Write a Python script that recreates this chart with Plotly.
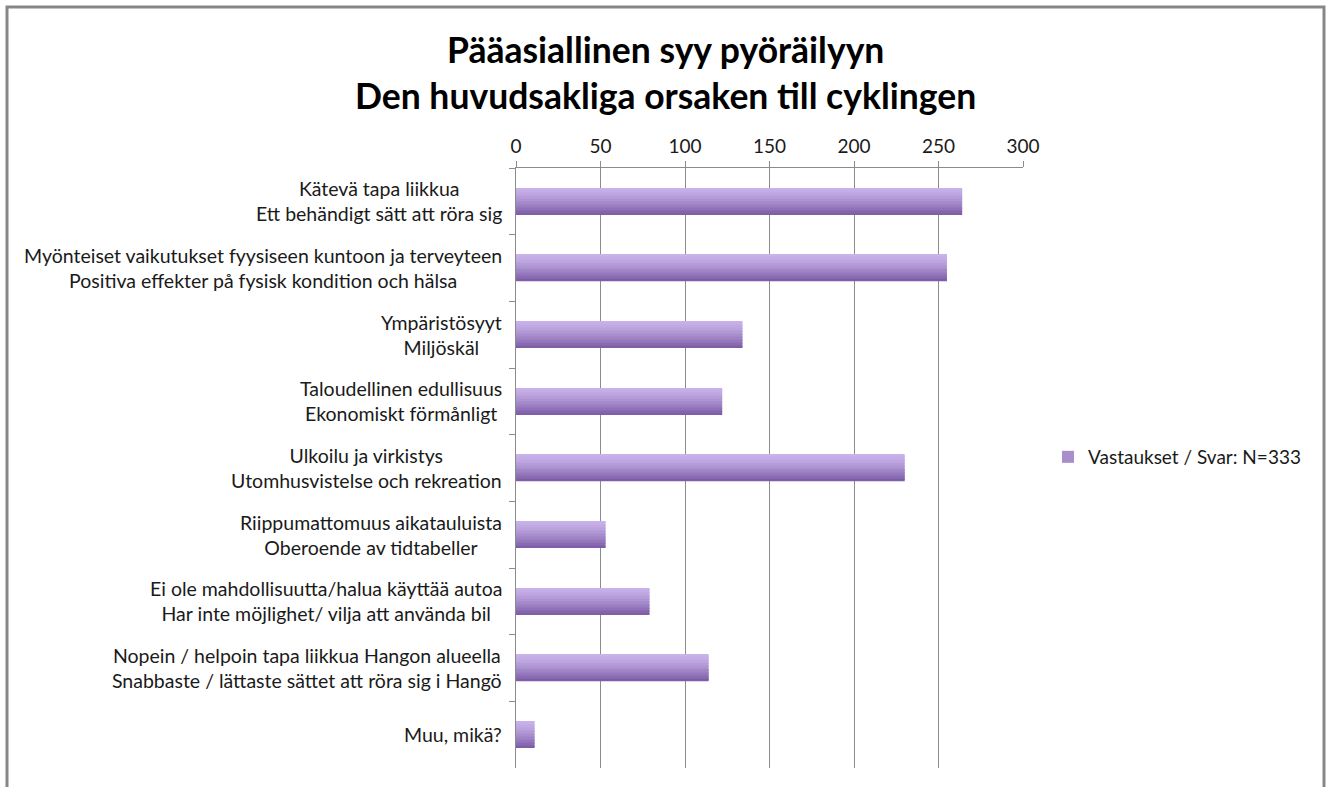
import plotly.graph_objects as go

# Survey: main reason for cycling (Finnish / Swedish), N=333
categories = [
    "Kätevä tapa liikkua<br>Ett behändigt sätt att röra sig",
    "Myönteiset vaikutukset fyysiseen kuntoon ja terveyteen<br>Positiva effekter på fysisk kondition och hälsa",
    "Ympäristösyyt<br>Miljöskäl",
    "Taloudellinen edullisuus<br>Ekonomiskt förmånligt",
    "Ulkoilu ja virkistys<br>Utomhusvistelse och rekreation",
    "Riippumattomuus aikatauluista<br>Oberoende av tidtabeller",
    "Ei ole mahdollisuutta/halua käyttää autoa<br>Har inte möjlighet/ vilja att använda bil",
    "Nopein / helpoin tapa liikkua Hangon alueella<br>Snabbaste / lättaste sättet att röra sig i Hangö",
    "Muu, mikä?",
]
answers = [264, 255, 134, 122, 230, 53, 79, 114, 11]
series_name = "Vastaukset / Svar: N=333"
title_lines = ["Pääasiallinen syy pyöräilyyn", "Den huvudsakliga orsaken till cyklingen"]
x_ticks = [0, 50, 100, 150, 200, 250, 300]

FONT = "Lato"
GRID = "#8c8c8c"
TEXT = "#1a1a1a"

# plot-area geometry in pixels
L, R, T, B = 516, 1023, 168, 768
PW, PH = R - L, B - T

# vertical gradient inside each bar: light lavender on top, deeper purple below
top_rgb = (200, 178, 234)
bottom_rgb = (126, 94, 168)
n_slices = 18
bar_width = 0.4
slice_w = bar_width / n_slices


def mix(t):
    t = t ** 1.35
    return "rgb({},{},{})".format(*[round(a + (b - a) * t) for a, b in zip(top_rgb, bottom_rgb)])


fig = go.Figure()
legend_slice = n_slices // 2
for i in range(n_slices):
    t = i / (n_slices - 1)
    fig.add_trace(go.Bar(
        y=categories,
        x=answers,
        orientation="h",
        width=slice_w + (0.004 if i < n_slices - 1 else 0),
        offset=-bar_width / 2 + i * slice_w,
        marker=dict(color=mix(t), line=dict(width=0)),
        name=series_name,
        showlegend=(i == legend_slice),
        hoverinfo="x+y",
    ))

# centred two-line category labels, right edge next to the axis
for cat in categories:
    fig.add_annotation(
        x=0, xref="paper", y=cat, yref="y",
        text=cat, showarrow=False,
        xanchor="right", yanchor="middle", align="center",
        xshift=-12,
        font=dict(family=FONT, size=19.5, color=TEXT),
    )

# two-line bold title
title_y = [49, 96]
for line, py in zip(title_lines, title_y):
    fig.add_annotation(
        x=(665 - L) / PW, xref="paper", y=(B - py) / PH, yref="paper",
        text="<b>" + line + "</b>", showarrow=False,
        xanchor="center", yanchor="middle",
        font=dict(family=FONT, size=35.5, color="#000000"),
    )

# outer chart border
fig.add_shape(
    type="rect", xref="paper", yref="paper",
    x0=(7 - L) / PW, x1=(1324 - L) / PW,
    y0=(B - 800) / PH, y1=(B - 7) / PH,
    line=dict(color="#878787", width=3), fillcolor="rgba(0,0,0,0)", layer="below",
)

fig.update_layout(
    width=1330, height=787,
    margin=dict(l=L, r=1330 - R, t=T, b=787 - B),
    paper_bgcolor="white", plot_bgcolor="white",
    barmode="overlay",
    font=dict(family=FONT, size=19, color=TEXT),
    showlegend=True,
    legend=dict(
        x=(1048 - L) / PW, xanchor="left",
        y=(B - 457) / PH, yanchor="middle",
        font=dict(family=FONT, size=19, color=TEXT),
        bgcolor="rgba(0,0,0,0)", itemwidth=30,
    ),
    xaxis=dict(
        side="top", range=[0, 300], tickvals=x_ticks,
        showgrid=True, gridcolor=GRID, gridwidth=1,
        showline=True, linecolor=GRID, linewidth=1,
        ticks="outside", ticklen=6, tickcolor=GRID,
        zeroline=False,
        tickfont=dict(family=FONT, size=19, color=TEXT),
        fixedrange=True,
    ),
    yaxis=dict(
        autorange="reversed",
        showticklabels=False,
        showline=True, linecolor=GRID, linewidth=1,
        ticks="outside", ticklen=6, tickcolor=GRID,
        tickson="boundaries",
        showgrid=False, zeroline=False,
        fixedrange=True,
    ),
)

fig.write_html("out.html")
